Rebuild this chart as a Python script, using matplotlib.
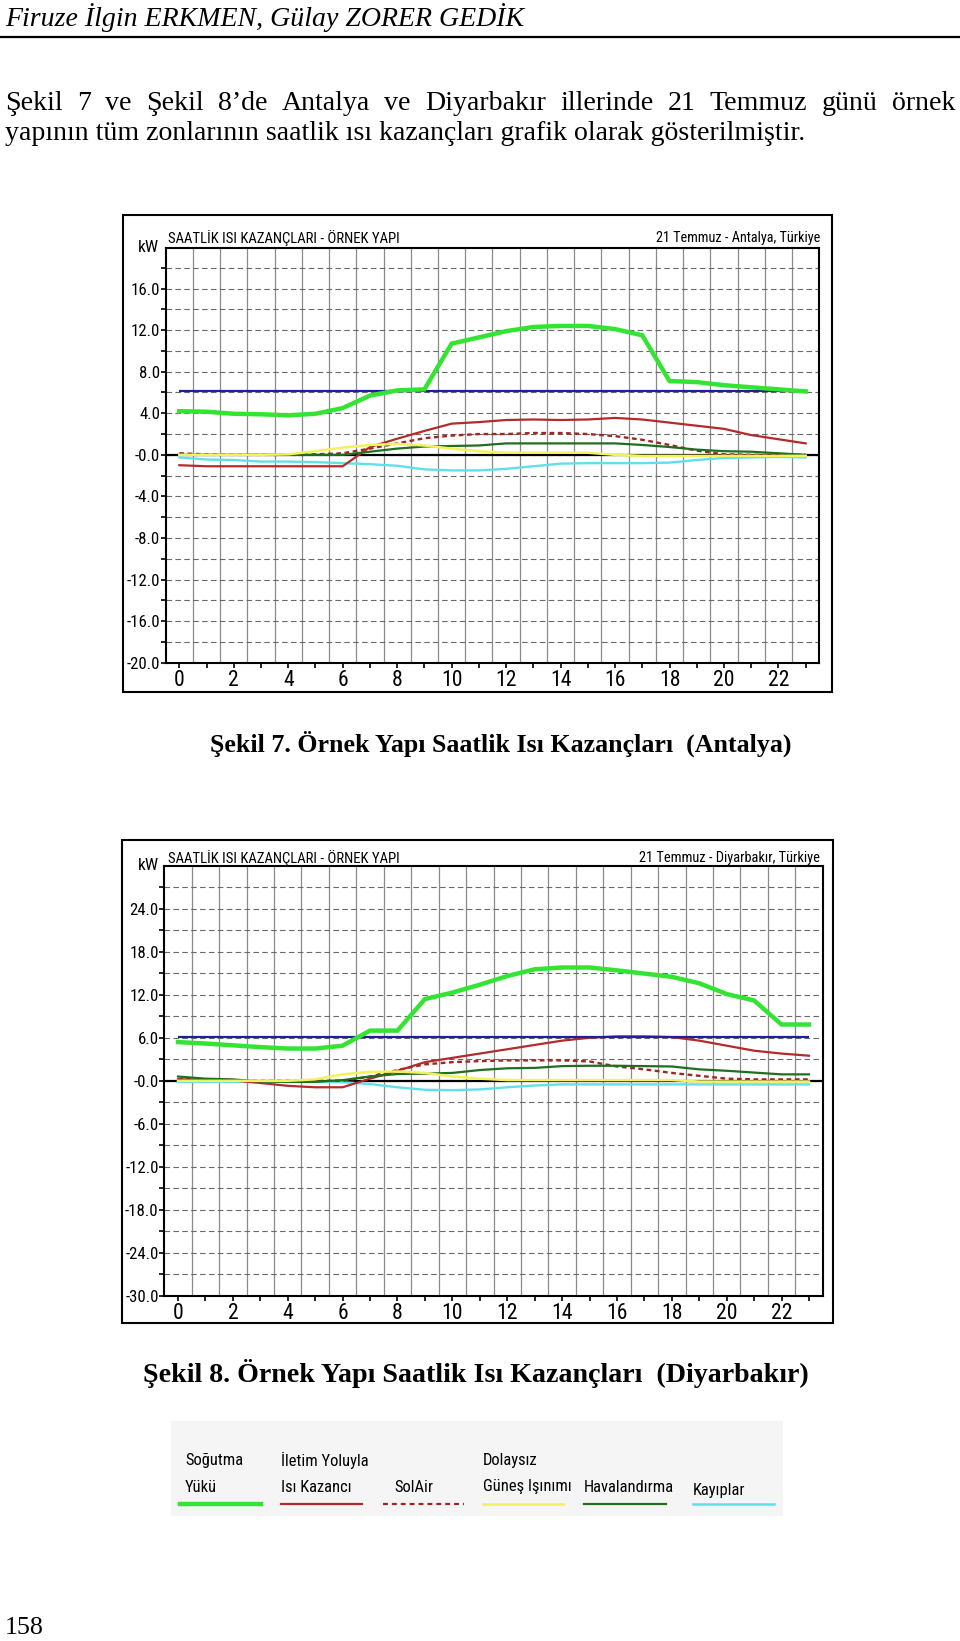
import numpy as np
import matplotlib
matplotlib.use('Agg')
import matplotlib.pyplot as plt
from matplotlib import font_manager
from matplotlib.patches import Rectangle
from matplotlib.lines import Line2D
from matplotlib.ticker import FixedLocator, MultipleLocator, FuncFormatter

# ---------------- data ----------------
hours = list(range(24))

antalya_sogutma = [4.2, 4.15, 3.95, 3.9, 3.8, 3.95, 4.5, 5.7, 6.2, 6.3, 10.7, 11.3,
                   11.9, 12.3, 12.4, 12.4, 12.1, 11.5, 7.1, 7.0, 6.7, 6.5, 6.3, 6.1]
antalya_iletim = [-1.0, -1.1, -1.1, -1.1, -1.1, -1.1, -1.1, 0.75, 1.55, 2.3, 3.0, 3.15,
                  3.35, 3.4, 3.35, 3.4, 3.55, 3.4, 3.1, 2.8, 2.5, 1.9, 1.5, 1.1]
antalya_solair = [0.15, 0.05, 0.0, 0.0, 0.0, 0.05, 0.15, 0.6, 1.1, 1.6, 1.85, 2.0,
                  2.0, 2.1, 2.1, 2.0, 1.8, 1.45, 0.95, 0.4, 0.05, 0.0, 0.0, 0.0]
antalya_gunes = [0.0, 0.0, 0.0, 0.0, 0.05, 0.35, 0.7, 0.95, 1.05, 0.9, 0.6, 0.35,
                 0.2, 0.2, 0.2, 0.2, 0.0, -0.1, -0.1, -0.1, -0.1, -0.1, -0.1, -0.1]
antalya_havalandirma = [0.0, 0.0, 0.0, 0.0, 0.0, 0.0, 0.0, 0.3, 0.6, 0.8, 0.85, 0.9,
                        1.1, 1.1, 1.1, 1.1, 1.1, 0.95, 0.75, 0.5, 0.35, 0.3, 0.15, 0.0]
antalya_kayiplar = [-0.25, -0.45, -0.5, -0.65, -0.65, -0.7, -0.8, -0.9, -1.05, -1.4, -1.5, -1.5,
                    -1.35, -1.1, -0.85, -0.8, -0.8, -0.8, -0.75, -0.5, -0.3, -0.25, -0.2, -0.25]
antalya_limit = 6.1

diyarbakir_sogutma = [5.4, 5.2, 4.95, 4.7, 4.5, 4.5, 4.9, 7.0, 7.0, 11.4, 12.3, 13.4,
                      14.6, 15.55, 15.8, 15.8, 15.4, 14.95, 14.5, 13.6, 12.1, 11.2, 7.85, 7.85]
diyarbakir_iletim = [0.2, 0.15, 0.05, -0.3, -0.7, -0.9, -0.9, 0.3, 1.4, 2.6, 3.2, 3.8,
                     4.4, 5.0, 5.6, 6.0, 6.2, 6.2, 6.1, 5.6, 4.9, 4.2, 3.8, 3.5]
diyarbakir_solair = [0.25, 0.2, 0.0, 0.0, 0.0, 0.0, 0.0, 0.6, 1.5, 2.3, 2.6, 2.75,
                     2.85, 2.85, 2.85, 2.7, 2.0, 1.6, 1.1, 0.7, 0.3, 0.2, 0.2, 0.2]
diyarbakir_gunes = [0.0, 0.0, 0.0, 0.0, 0.0, 0.2, 0.9, 1.25, 1.3, 1.1, 0.6, 0.3,
                    0.1, 0.1, 0.1, 0.1, 0.1, 0.1, 0.1, -0.1, -0.1, -0.1, -0.1, -0.1]
diyarbakir_havalandirma = [0.6, 0.3, 0.2, -0.1, -0.15, -0.15, 0.1, 0.6, 0.95, 1.0, 1.1, 1.5,
                           1.75, 1.8, 2.05, 2.1, 2.1, 2.05, 2.0, 1.6, 1.4, 1.15, 0.9, 0.9]
diyarbakir_kayiplar = [-0.15, -0.15, -0.15, -0.15, -0.15, -0.15, -0.2, -0.45, -0.9, -1.25, -1.3, -1.2,
                       -0.9, -0.65, -0.5, -0.5, -0.5, -0.5, -0.5, -0.5, -0.5, -0.5, -0.5, -0.5]
diyarbakir_limit = 6.1

legend_labels = [("Soğutma", "Yükü"), ("İletim Yoluyla", "Isı Kazancı"), ("", "SolAir"),
                 ("Dolaysız", "Güneş Işınımı"), ("", "Havalandırma"), ("", "Kayıplar")]

# ---------------- styles ----------------
C_GREEN = '#33e433'
C_BLUE = '#1f1f9c'
C_RED = '#b32b2b'
C_REDD = '#a02525'
C_YELLOW = '#f2f25e'
C_DGREEN = '#1f6f1f'
C_CYAN = '#62e0ea'

fonts = font_manager.fontManager.ttflist
names = {f.name for f in fonts}
if 'Liberation Sans Narrow' in names:
    NARROW = {'family': 'Liberation Sans Narrow'}
elif 'Roboto Condensed' in names:
    NARROW = {'family': 'Roboto Condensed'}
elif any(f.name == 'DejaVu Sans' and f.stretch == 'condensed' for f in fonts):
    NARROW = {'family': 'DejaVu Sans', 'stretch': 'condensed'}
else:
    NARROW = {'family': 'DejaVu Sans'}
SERIF = 'Liberation Serif' if 'Liberation Serif' in names else 'DejaVu Serif'

W, H = 960, 1641
fig = plt.figure(figsize=(W / 100, H / 100), dpi=100)
fig.patch.set_facecolor('white')
renderer = fig.canvas.get_renderer()


def fx(x):
    return x / W


def fy(y):
    return 1 - y / H


def fit_text(x0, x1, yc, s, ha='left', size=12, **kw):
    t = fig.text(fx(x0 if ha == 'left' else (x1 if ha == 'right' else (x0 + x1) / 2)), fy(yc), s,
                 fontsize=size, va='center', ha=ha, **kw)
    w = t.get_window_extent(renderer).width
    t.set_fontsize(size * (x1 - x0) / w)
    return t


def measure_size(s, target_w, size=12, **kw):
    t = fig.text(0, 0, s, fontsize=size, **kw)
    w = t.get_window_extent(renderer).width
    t.remove()
    return size * target_w / w


def justify(x0, x1, yc, s, size, **kw):
    words = s.split(' ')
    ts = [fig.text(0, fy(yc), w, fontsize=size, va='center', ha='left', **kw) for w in words]
    widths = [t.get_window_extent(renderer).width for t in ts]
    gap = (x1 - x0 - sum(widths)) / (len(words) - 1)
    x = x0
    for t, w in zip(ts, widths):
        t.set_x(fx(x))
        x += w + gap


# ---------------- page text ----------------
fit_text(5, 523, 18, "Firuze İlgin ERKMEN, Gülay ZORER GEDİK", family=SERIF, style='italic', size=18)
fig.add_artist(Line2D([0, 1], [fy(37), fy(37)], transform=fig.transFigure, color='black', lw=1.6))

t2 = fit_text(5, 806, 134, "yapının tüm zonlarının saatlik ısı kazançları grafik olarak gösterilmiştir.",
              family=SERIF, size=17)
justify(5, 955, 104, "Şekil 7 ve Şekil 8’de Antalya ve Diyarbakır illerinde 21 Temmuz günü örnek",
        t2.get_fontsize(), family=SERIF)

fit_text(210, 792, 744, "Şekil 7. Örnek Yapı Saatlik Isı Kazançları  (Antalya)",
         family=SERIF, weight='bold', size=17)
fit_text(143, 811, 1373, "Şekil 8. Örnek Yapı Saatlik Isı Kazançları  (Diyarbakır)",
         family=SERIF, weight='bold', size=17)
fit_text(5, 44, 1628, "158", family=SERIF, size=17)

TICK_SIZE = measure_size("-20.0", 33, **NARROW)
XTICK_SIZE = TICK_SIZE * 1.3


# ---------------- charts ----------------
def draw_chart(plot_px, frame_px, ylim, major, minor, right_title, title_y, kw_y, series, limit):
    x0, y0, x1, y1 = frame_px
    fig.add_artist(Rectangle((fx(x0), fy(y1)), fx(x1 - x0), (y1 - y0) / H, transform=fig.transFigure,
                             fill=False, edgecolor='black', lw=1.5))
    px0, py0, px1, py1 = plot_px
    ax = fig.add_axes([fx(px0), fy(py1), fx(px1 - px0), (py1 - py0) / H])
    ax.set_xlim(-0.5, 23.5)
    ax.set_ylim(*ylim)
    for s in ax.spines.values():
        s.set_linewidth(1.5)
        s.set_color('black')
    # grid
    ax.vlines(np.arange(0.5, 23.5, 1.0), ylim[0], ylim[1], color='#8a8a8a', lw=0.9, zorder=1)
    ax.yaxis.set_major_locator(MultipleLocator(major))
    ax.yaxis.set_minor_locator(MultipleLocator(minor))
    ax.grid(which='both', axis='y', color='#6a6a6a', lw=0.8, linestyle=(0, (5, 3)), zorder=1)
    top = ylim[1]

    def yfmt(v, p):
        if v > top - minor * 0.9:
            return ''
        return '-0.0' if abs(v) < 1e-9 else f'{v:.1f}'
    ax.yaxis.set_major_formatter(FuncFormatter(yfmt))
    ax.xaxis.set_major_locator(FixedLocator(hours))
    ax.xaxis.set_major_formatter(FuncFormatter(lambda v, p: f'{int(round(v))}' if int(round(v)) % 2 == 0 else ''))
    ax.tick_params(axis='y', which='both', direction='out', length=3.5, width=1.2, pad=0.5,
                   labelsize=TICK_SIZE, colors='black')
    ax.tick_params(axis='x', direction='out', length=3.5, width=1.2, pad=1.5, labelsize=XTICK_SIZE)
    for lab in ax.get_xticklabels() + ax.get_yticklabels():
        lab.set_family(NARROW['family'])
        if 'stretch' in NARROW:
            lab.set_stretch(NARROW['stretch'])
    ax.axhline(0, color='black', lw=1.6, zorder=2)
    sog, ile, sol, gun, hav, kay = series
    ax.plot(hours, kay, color=C_CYAN, lw=1.7, zorder=3)
    ax.plot(hours, sol, color=C_REDD, lw=1.7, linestyle=(0, (2, 1.5)), zorder=3)
    ax.plot(hours, ile, color=C_RED, lw=1.6, zorder=4)
    ax.plot(hours, hav, color=C_DGREEN, lw=1.6, zorder=4)
    ax.plot(hours, gun, color=C_YELLOW, lw=1.8, zorder=4)
    ax.hlines(limit, hours[0], hours[-1], color=C_BLUE, lw=1.6, zorder=5)
    ax.plot(hours, sog, color=C_GREEN, lw=3.2, zorder=6, solid_joinstyle='miter')
    # titles
    fit_text(167.5, 399, title_y, "SAATLİK ISI KAZANÇLARI - ÖRNEK YAPI", size=11, **NARROW)
    fit_text(right_title[1], 820, title_y, right_title[0], ha='right', size=11, **NARROW)
    fit_text(138, 159, kw_y, "kW", size=12, **NARROW)
    return ax


draw_chart((165.7, 248, 819.3, 662.7), (123, 215, 832, 692), (-20, 19.9), 4, 2,
           ("21 Temmuz - Antalya, Türkiye", 655), 238, 247.5,
           (antalya_sogutma, antalya_iletim, antalya_solair, antalya_gunes,
            antalya_havalandirma, antalya_kayiplar), antalya_limit)

draw_chart((164.3, 866, 822.7, 1296), (121.7, 840, 832.7, 1323), (-30, 29.95), 6, 3,
           ("21 Temmuz - Diyarbakır, Türkiye", 640), 858, 866,
           (diyarbakir_sogutma, diyarbakir_iletim, diyarbakir_solair, diyarbakir_gunes,
            diyarbakir_havalandirma, diyarbakir_kayiplar), diyarbakir_limit)

# ---------------- legend image ----------------
fig.add_artist(Rectangle((fx(171), fy(1516)), fx(783 - 171), (1516 - 1421) / H,
                         transform=fig.transFigure, facecolor='#f5f5f5', edgecolor='none', zorder=0))
LEG_SIZE = measure_size("Havalandırma", 90, **NARROW)
leg_x = [(180, 261, 185), (281, 362, 281), (383, 464, 394), (483, 563, 483), (584, 666, 584), (693, 774, 693)]
leg_style = [(C_GREEN, 3.2, '-'), (C_RED, 1.6, '-'), (C_REDD, 1.6, (0, (2.2, 1.8))),
             (C_YELLOW, 1.8, '-'), (C_DGREEN, 1.6, '-'), (C_CYAN, 1.8, '-')]
for (a, b, tx), (l1, l2), (c, lw, ls) in zip(leg_x, legend_labels, leg_style):
    fig.add_artist(Line2D([fx(a), fx(b)], [fy(1504), fy(1504)], transform=fig.transFigure,
                          color=c, lw=lw, linestyle=ls))
    if l1:
        fig.text(fx(tx), fy(1460), l1, fontsize=LEG_SIZE, va='center', ha='left', **NARROW)
    yy = 1490 if l2 == "Kayıplar" else 1487
    fig.text(fx(tx), fy(yy), l2, fontsize=LEG_SIZE, va='center', ha='left', **NARROW)

fig.savefig('out.png', dpi=100, facecolor='white')
